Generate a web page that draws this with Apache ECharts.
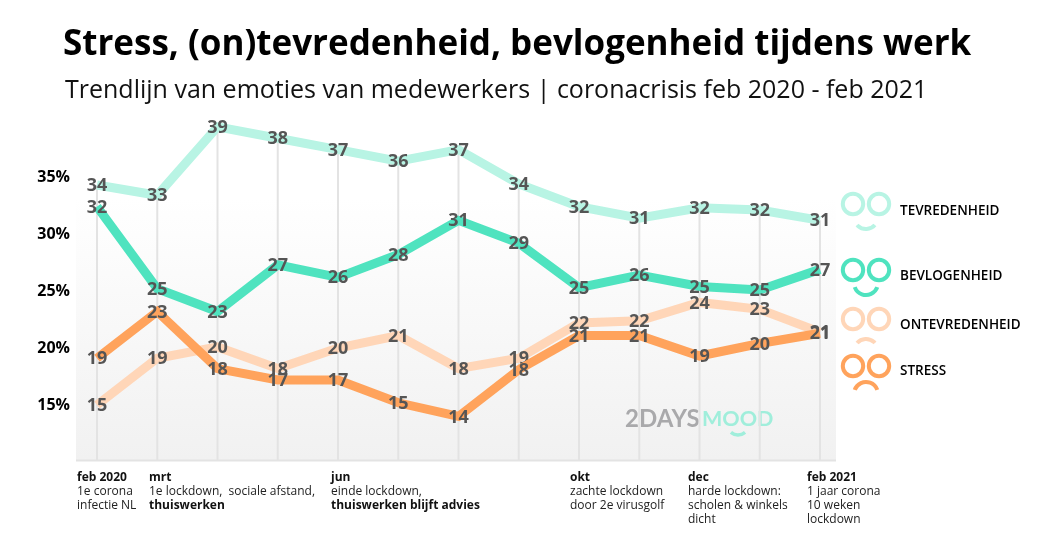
<!DOCTYPE html>
<html><head><meta charset="utf-8">
<style>html,body{margin:0;padding:0;background:#fff}#c{width:1040px;height:544px}</style>
<script src="https://cdn.jsdelivr.net/npm/echarts@6/dist/echarts.min.js"></script>
</head><body><div id="c"></div>
<script>
const months = ['feb 2020','mrt','apr','mei','jun','jul','aug','sep','okt','nov','dec','jan','feb 2021'];
const tevredenheid = [34.3,33.4,39.4,38.4,37.4,36.4,37.4,34.4,32.4,31.4,32.3,32.1,31.2];
const bevlogenheid = [32.4,25.2,23.2,27.3,26.2,28.2,31.2,29.2,25.3,26.4,25.4,25.1,26.9];
const ontevredenheid = [15.0,19.1,20.1,18.2,20.0,21.1,18.2,19.1,22.2,22.4,24.0,23.4,21.4];
const stress = [19.1,23.2,18.2,17.2,17.2,15.2,14.0,18.1,21.1,21.1,19.3,20.4,21.3];
const yTicks = [15,20,25,30,35];
const FONT = '"Open Sans", sans-serif';
const colors = {tev:'#b8f4e4', bev:'#4fe3bf', ont:'#ffd6b8', str:'#ffa35c'};

const notes = [
  {x:77, lines:[['b','feb 2020'],['n','1e corona'],['n','infectie NL']]},
  {x:149, lines:[['b','mrt'],['n','1e lockdown,  sociale afstand,'],['b','thuiswerken']]},
  {x:331, lines:[['b','jun'],['n','einde lockdown,'],['b','thuiswerken blijft advies']]},
  {x:570, lines:[['b','okt'],['n','zachte lockdown'],['n','door 2e virusgolf']]},
  {x:688, lines:[['b','dec'],['n','harde lockdown:'],['n','scholen & winkels'],['n','dicht']]},
  {x:807, lines:[['b','feb 2021'],['n','1 jaar corona'],['n','10 weken'],['n','lockdown']]}
];
const faces = [
  {name:'TEVREDENHEID', color:colors.tev, eyeY:204, textY:211, my:217, a0:42, a1:138},
  {name:'BEVLOGENHEID', color:colors.bev, eyeY:270, textY:276, my:283, a0:20, a1:160},
  {name:'ONTEVREDENHEID', color:colors.ont, eyeY:319, textY:325, my:351, a0:222, a1:318},
  {name:'STRESS', color:colors.str, eyeY:366, textY:371, my:394, a0:200, a1:340}
];

const graphic = [
  {type:'rect', z:-10, shape:{x:76,y:110,width:760,height:350},
   style:{fill:{type:'linear',x:0,y:0,x2:0,y2:1,colorStops:[{offset:0,color:'#ffffff'},{offset:0.25,color:'#ffffff'},{offset:1,color:'#f1f1f1'}]}}},
  {type:'rect', z:-5, shape:{x:76,y:459.5,width:760,height:2}, style:{fill:'#e3e3e3'}},
  {type:'text', left:63, top:28, style:{text:'Stress, (on)tevredenheid, bevlogenheid tijdens werk', font:'700 35px '+FONT, fill:'#000'}},
  {type:'text', left:65, top:78, style:{text:'Trendlijn van emoties van medewerkers | coronacrisis feb 2020 - feb 2021', font:'400 25px '+FONT, fill:'#111'}},
  {type:'text', x:625, y:419, style:{text:'2DAYS', font:'700 24px Lato, sans-serif', fill:'#a9a9ab', verticalAlign:'middle'}},
  {type:'text', x:702, y:419, style:{text:'MOOD', font:'700 21.5px Lato, sans-serif', fill:'#a0eedb', verticalAlign:'middle'}},
  {type:'arc', shape:{cx:738,cy:424,r:11,startAngle:50*Math.PI/180,endAngle:130*Math.PI/180}, style:{fill:'none',stroke:'#a0eedb',lineWidth:3.5}}
];
notes.forEach(n=>{
  graphic.push({type:'text', x:n.x, y:470, style:{
    text:n.lines.map(l=>'{'+l[0]+'|'+l[1]+'}').join('\n'),
    rich:{b:{font:'700 12px '+FONT,fill:'#111',lineHeight:14.3},n:{font:'400 12px '+FONT,fill:'#222',lineHeight:14.3}}
  }});
});
faces.forEach(f=>{
  [853,879].forEach(x=>graphic.push({type:'circle',shape:{cx:x,cy:f.eyeY,r:10.2},style:{fill:'none',stroke:f.color,lineWidth:4}}));
  graphic.push({type:'arc',shape:{cx:866,cy:f.my,r:12,startAngle:f.a0*Math.PI/180,endAngle:f.a1*Math.PI/180},style:{fill:'none',stroke:f.color,lineWidth:4}});
  graphic.push({type:'text',x:900,y:f.textY,style:{text:f.name,font:'600 13.5px '+FONT,fill:'#000',verticalAlign:'middle'}});
});

function lineSeries(name,data,color,z){
  return {type:'line',name,data,z,symbol:'circle',symbolSize:0,showSymbol:true,silent:true,
    lineStyle:{color,width:9,join:'miter',cap:'butt'},itemStyle:{color},
    label:{show:true,position:'inside',offset:[0,1],color:'#555',fontFamily:FONT,fontWeight:700,fontSize:18,
      formatter:p=>Math.round(p.value)},
    animation:false};
}
const chart = echarts.init(document.getElementById('c'),null,{renderer:'canvas'});
chart.setOption({
  animation:false,
  graphic,
  grid:{left:97,right:220,top:110,bottom:84},
  xAxis:{type:'category',data:months,boundaryGap:false,axisLine:{show:false},axisTick:{show:false},axisLabel:{show:false},splitLine:{show:false}},
  yAxis:{type:'value',min:10.18,max:40.88,
    axisLine:{show:false},axisTick:{show:false},splitLine:{show:false},
    axisLabel:{customValues:yTicks,margin:27,padding:[4,0,0,0],formatter:'{value}%',color:'#000',fontFamily:FONT,fontWeight:700,fontSize:16}},
  series:[
    {type:'bar',data:tevredenheid,barWidth:2,z:1,silent:true,itemStyle:{color:'#e3e3e3'},animation:false},
    lineSeries('Tevredenheid',tevredenheid,colors.tev,2),
    lineSeries('Ontevredenheid',ontevredenheid,colors.ont,3),
    lineSeries('Bevlogenheid',bevlogenheid,colors.bev,4),
    lineSeries('Stress',stress,colors.str,5)
  ]
});
</script></body></html>
